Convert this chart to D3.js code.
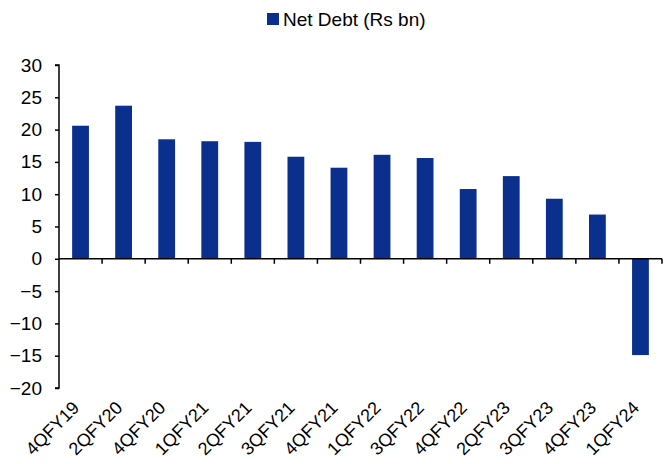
<!DOCTYPE html>
<html>
<head>
<meta charset="utf-8">
<script src="https://cdn.jsdelivr.net/npm/d3@7"></script>
<style>
  body { margin: 0; background: #fff; }
  text { font-family: "Liberation Sans", Arial, sans-serif; fill: #000; }
</style>
</head>
<body>
<div id="chart"></div>
<script>
// data
var quarters = ["4QFY19", "2QFY20", "4QFY20", "1QFY21", "2QFY21", "3QFY21", "4QFY21",
                "1QFY22", "3QFY22", "4QFY22", "2QFY23", "3QFY23", "4QFY23", "1QFY24"];
var netDebt = [20.6, 23.7, 18.5, 18.2, 18.1, 15.8, 14.1, 16.1, 15.6, 10.8, 12.8, 9.3, 6.85, -14.9];
var yTicks = [-20, -15, -10, -5, 0, 5, 10, 15, 20, 25, 30];
var seriesName = "Net Debt (Rs bn)";

var containerWidth = 672,
    containerHeight = 464,
    margin = { top: 65, right: 10, bottom: 76, left: 59 },
    width = 662 - margin.left,
    height = 388 - margin.top;

var barColor = "#0a2f8c";
var fontSize = "19px";

var svg = d3.select("#chart")
    .append("svg")
    .attr("width", containerWidth)
    .attr("height", containerHeight);

var g = svg.append("g")
    .attr("transform", "translate(" + margin.left + "," + margin.top + ")");

var x = d3.scaleBand()
    .domain(quarters)
    .range([0, width])
    .padding(0);

var y = d3.scaleLinear()
    .domain([-20, 30])
    .range([height, 0]);

var barW = x.bandwidth() * 0.39;

// bars
g.selectAll(".bar")
    .data(netDebt)
    .enter().append("rect")
    .attr("class", "bar")
    .attr("x", function(d, i) { return x(quarters[i]) + (x.bandwidth() - barW) / 2; })
    .attr("y", function(d) { return y(Math.max(0, d)); })
    .attr("width", barW)
    .attr("height", function(d) { return Math.abs(y(d) - y(0)); })
    .attr("fill", barColor);

// y axis
var yAxis = g.append("g")
    .call(d3.axisLeft(y).tickValues(yTicks).tickSize(4).tickPadding(13));
yAxis.select(".domain").attr("stroke", "#000").attr("stroke-width", 1.5)
    .attr("d", "M-4," + y(-20) + "H0V" + y(30) + "H-4");
yAxis.selectAll(".tick line").attr("stroke", "#000").attr("stroke-width", 1.5);
yAxis.selectAll(".tick text").style("font-size", fontSize);

// x axis at zero with ticks at category boundaries
var xAxis = g.append("g")
    .attr("transform", "translate(0," + y(0) + ")");
xAxis.append("line")
    .attr("x1", 0).attr("x2", width)
    .attr("stroke", "#000").attr("stroke-width", 1.5);
xAxis.selectAll(".xtick")
    .data(quarters)
    .enter().append("line")
    .attr("class", "xtick")
    .attr("x1", function(d) { return x(d) + x.bandwidth(); })
    .attr("x2", function(d) { return x(d) + x.bandwidth(); })
    .attr("y1", 0).attr("y2", 5)
    .attr("stroke", "#000").attr("stroke-width", 1.5);

// category labels below plot, rotated
g.selectAll(".xlabel")
    .data(quarters)
    .enter().append("text")
    .attr("class", "xlabel")
    .attr("transform", function(d) {
        return "translate(" + (x(d) + x.bandwidth() / 2 - 9) + "," + (height + 12) + ") rotate(-45)";
    })
    .attr("text-anchor", "end")
    .attr("dy", "0.7em")
    .style("font-size", "18px")
    .text(function(d) { return d; });

// legend
var legend = svg.append("g").attr("transform", "translate(267,13)");
legend.append("rect")
    .attr("width", 12).attr("height", 12)
    .attr("fill", barColor);
legend.append("text")
    .attr("x", 16).attr("y", 13)
    .style("font-size", fontSize)
    .text(seriesName);
</script>
</body>
</html>
